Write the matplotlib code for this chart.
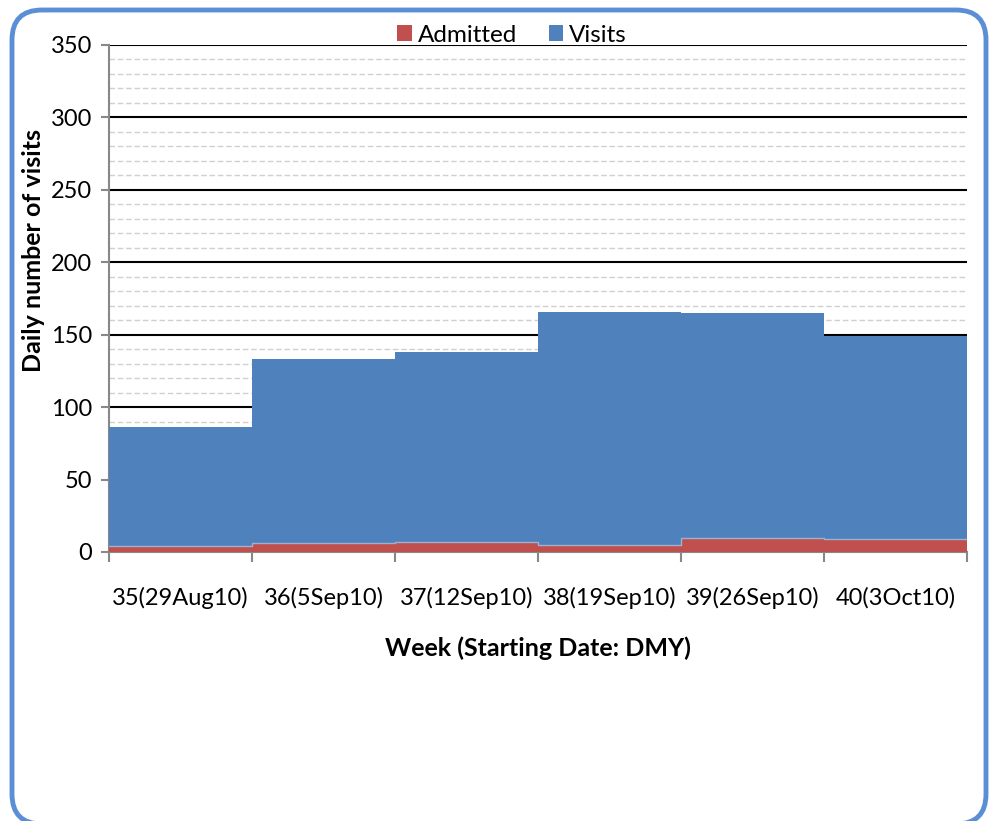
import numpy as np
import matplotlib.pyplot as plt
from matplotlib.patches import FancyBboxPatch

weeks = ['35(29Aug10)', '36(5Sep10)', '37(12Sep10)', '38(19Sep10)', '39(26Sep10)', '40(3Oct10)']
visits = [86, 133, 138, 166, 165, 149]
admitted = [4, 6, 7, 5, 10, 9]

plt.rcParams['font.family'] = ['Lato', 'DejaVu Sans']

fig = plt.figure(figsize=(9.9, 8.21), dpi=100)
ax = fig.add_axes([109 / 990, 1 - 552 / 821, (967 - 109) / 990, (552 - 45) / 821])

x = np.arange(len(weeks) + 1)
v = visits + visits[-1:]
a = admitted + admitted[-1:]
ax.fill_between(x, 0, v, step='post', color='#4F81BD', lw=0, label='Visits', zorder=3)
ax.fill_between(x, 0, a, step='post', color='#C0504D', lw=0, label='Admitted', zorder=4)
ax.step(x, a, where='post', color='#9DB2D0', lw=1, zorder=4)

ax.set_xlim(0, len(weeks))
ax.set_ylim(0, 350)
ax.set_yticks(np.arange(0, 351, 50))
ax.set_yticks(np.arange(0, 351, 10), minor=True)
ax.yaxis.grid(True, which='major', color='black', lw=1.5, zorder=1)
ax.yaxis.grid(True, which='minor', color='#D0D0D0', lw=1, ls=(0, (4, 2)), zorder=0)
ax.tick_params(axis='y', which='minor', length=0)
ax.set_axisbelow(True)

ax.set_xticks(x)
ax.set_xticklabels([])
ax.set_xticks(x[:-1] + 0.5, minor=True)
ax.set_xticklabels(weeks, minor=True)
ax.tick_params(axis='x', which='minor', length=0, labelsize=17, pad=25)
ax.tick_params(axis='x', which='major', length=7, color='#888888', width=1.5)
ax.tick_params(axis='y', which='major', length=6, color='#888888', width=1.5, labelsize=17, pad=6)

for s in ['top', 'right']:
    ax.spines[s].set_visible(False)
for s in ['left', 'bottom']:
    ax.spines[s].set_color('#888888')
    ax.spines[s].set_linewidth(1.5)

fig.text(34 / 990, 1 - 250 / 821, 'Daily number of visits', rotation=90, ha='center', va='center',
         fontsize=18, fontweight='bold')
fig.text(538 / 990, 1 - 648 / 821, 'Week (Starting Date: DMY)', ha='center', va='center',
         fontsize=18, fontweight='bold')

handles, labels = ax.get_legend_handles_labels()
fig.legend(handles[::-1], labels[::-1], loc='center', bbox_to_anchor=(512 / 990, 1 - 35 / 821), ncol=2,
           frameon=False, fontsize=17.5, handlelength=0.6, handleheight=0.6, handletextpad=0.25,
           columnspacing=1.3, borderpad=0)

# rounded frame, drawn in pixel coordinates (origin bottom-left)
bg = fig.add_axes([0, 0, 1, 1], zorder=10)
bg.set_xlim(0, 990)
bg.set_ylim(0, 821)
bg.axis('off')
bg.patch.set_alpha(0)
bg.add_patch(FancyBboxPatch((12, -3), 974, 814, boxstyle='round,pad=0,rounding_size=30',
                            fill=False, ec='#5B8FD5', lw=3.5))

fig.savefig('out.png', dpi=100)
